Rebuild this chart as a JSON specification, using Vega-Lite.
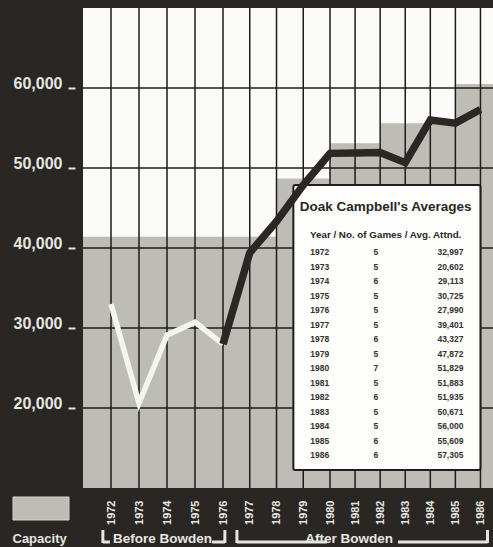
{
  "$schema": "https://vega.github.io/schema/vega-lite/v6.json",
  "width": 410,
  "height": 480,
  "autosize": {"type": "none"},
  "padding": {"left": 83, "top": 8, "right": 0, "bottom": 59},
  "background": "#2a2624",
  "config": {"view": {"fill": "#fbfbf9", "stroke": null}, "font": "Liberation Sans"},
  "datasets": {
    "averages": [
      {"year": 1972, "games": 5, "attendance": 32997},
      {"year": 1973, "games": 5, "attendance": 20602},
      {"year": 1974, "games": 6, "attendance": 29113},
      {"year": 1975, "games": 5, "attendance": 30725},
      {"year": 1976, "games": 5, "attendance": 27990},
      {"year": 1977, "games": 5, "attendance": 39401},
      {"year": 1978, "games": 6, "attendance": 43327},
      {"year": 1979, "games": 5, "attendance": 47872},
      {"year": 1980, "games": 7, "attendance": 51829},
      {"year": 1981, "games": 5, "attendance": 51883},
      {"year": 1982, "games": 6, "attendance": 51935},
      {"year": 1983, "games": 5, "attendance": 50671},
      {"year": 1984, "games": 5, "attendance": 56000},
      {"year": 1985, "games": 6, "attendance": 55609},
      {"year": 1986, "games": 6, "attendance": 57305}
    ],
    "capacity": [
      {"year": 1971, "capacity": 41400},
      {"year": 1972, "capacity": 41400},
      {"year": 1973, "capacity": 41400},
      {"year": 1974, "capacity": 41400},
      {"year": 1975, "capacity": 41400},
      {"year": 1976, "capacity": 41400},
      {"year": 1977, "capacity": 41400},
      {"year": 1978, "capacity": 48700},
      {"year": 1979, "capacity": 48700},
      {"year": 1980, "capacity": 53100},
      {"year": 1981, "capacity": 53100},
      {"year": 1982, "capacity": 55600},
      {"year": 1983, "capacity": 55600},
      {"year": 1984, "capacity": 55600},
      {"year": 1985, "capacity": 60500},
      {"year": 1986, "capacity": 60500},
      {"year": 1987, "capacity": 60500}
    ],
    "yticks": [
      {"value": 20000}, {"value": 30000}, {"value": 40000}, {"value": 50000}, {"value": 60000}
    ]
  },
  "layer": [
    {
      "layer": [
        {
          "data": {"name": "capacity"},
          "mark": {"type": "area", "interpolate": "step-after", "color": "#bdbdb6", "clip": true},
          "encoding": {
            "x": {
              "field": "year", "type": "quantitative",
              "scale": {"domain": [1971, 1976, 1980, 1986.5], "range": [0, 140, 247, 410], "nice": false, "zero": false},
              "axis": {
                "values": [1972, 1973, 1974, 1975, 1976, 1977, 1978, 1979, 1980, 1981, 1982, 1983, 1984, 1985, 1986],
                "tickCount": 30,
                "labelExpr": "format(datum.value, 'd')", "labelOverlap": false, "labelBound": false,
                "labelAngle": 270, "labelFontSize": 11, "labelFontWeight": "bold",
                "labelColor": "#e6e6e0", "ticks": false, "domain": false, "grid": false,
                "labelPadding": 12, "title": null
              }
            },
            "y": {
              "field": "capacity", "type": "quantitative",
              "scale": {"domain": [10000, 70000], "nice": false, "zero": false},
              "axis": {
                "values": [20000, 30000, 40000, 50000, 60000],
                "tickCount": 30,
                "labelExpr": "format(datum.value, ',')", "labelOverlap": false,
                "labelFontSize": 16, "labelFontWeight": "bold", "labelColor": "#e6e6e0",
                "labelBaseline": "alphabetic", "labelPadding": 6,
                "tickSize": 7, "tickWidth": 2, "tickColor": "#e6e6e0",
                "offset": 8, "domain": false, "grid": false, "title": null
              }
            },
            "y2": {"datum": 10000}
          }
        },
        {
          "data": {"name": "averages"},
          "mark": {"type": "rule", "color": "#1f1c1b", "strokeWidth": 1.5},
          "encoding": {"x": {"field": "year", "type": "quantitative"}}
        },
        {
          "data": {"name": "yticks"},
          "mark": {"type": "rule", "color": "#1f1c1b", "strokeWidth": 1.5},
          "encoding": {"y": {"field": "value", "type": "quantitative"}}
        },
        {
          "data": {"values": [{}]},
          "mark": {"type": "rect", "fill": "#fdfdfb", "stroke": "#1f1c1b", "strokeWidth": 2, "cornerRadius": 2},
          "encoding": {
            "x": {"datum": 1978.63}, "x2": {"datum": 1986},
            "y": {"datum": 47875}, "y2": {"datum": 12250}
          }
        },
        {
          "data": {"values": [{}]},
          "mark": {"type": "text", "text": "Doak Campbell's Averages", "fontSize": 13.5, "fontWeight": "bold", "color": "#2a2624", "align": "center", "baseline": "middle"},
          "encoding": {"x": {"datum": 1982.22}, "y": {"datum": 45125}}
        },
        {
          "data": {"values": [{}]},
          "mark": {"type": "text", "text": "Year / No. of Games / Avg. Attnd.", "fontSize": 9.8, "fontWeight": "bold", "color": "#2a2624", "align": "center", "baseline": "middle"},
          "encoding": {"x": {"datum": 1982.22}, "y": {"datum": 41625}}
        },
        {
          "data": {"name": "averages"},
          "transform": [{"filter": "datum.year <= 1976"}],
          "mark": {"type": "line", "color": "#f5f5f0", "strokeWidth": 5.5, "strokeJoin": "miter"},
          "encoding": {"x": {"field": "year", "type": "quantitative"}, "y": {"field": "attendance", "type": "quantitative"}}
        },
        {
          "data": {"name": "averages"},
          "transform": [{"filter": "datum.year >= 1976"}],
          "mark": {"type": "line", "color": "#2c2725", "strokeWidth": 7.5, "strokeJoin": "miter"},
          "encoding": {"x": {"field": "year", "type": "quantitative"}, "y": {"field": "attendance", "type": "quantitative"}}
        },
        {
          "data": {"values": [{}]},
          "mark": {"type": "rect", "fill": "#bdbdb6", "stroke": "#d2d2ca", "strokeWidth": 1},
          "encoding": {"x": {"datum": 1968.5}, "x2": {"datum": 1970.5}, "y": {"datum": 8875}, "y2": {"datum": 6000}}
        },
        {
          "data": {"values": [{}]},
          "mark": {"type": "text", "text": "Capacity", "fontSize": 13, "fontWeight": "bold", "color": "#e6e6e0", "align": "center", "baseline": "alphabetic"},
          "encoding": {"x": {"datum": 1969.45}, "y": {"datum": 3125}}
        },
        {
          "data": {"values": [{}]},
          "mark": {"type": "text", "text": "Before Bowden", "fontSize": 13.5, "fontWeight": "bold", "color": "#e6e6e0", "align": "center", "baseline": "alphabetic"},
          "encoding": {"x": {"datum": 1973.84}, "y": {"datum": 3125}}
        },
        {
          "data": {"values": [{}]},
          "mark": {"type": "text", "text": "After Bowden", "fontSize": 13.5, "fontWeight": "bold", "color": "#e6e6e0", "align": "center", "baseline": "alphabetic"},
          "encoding": {"x": {"datum": 1980.76}, "y": {"datum": 3125}}
        },
        {
          "data": {"values": [{}]},
          "mark": {"type": "rule", "color": "#e6e6e0", "strokeWidth": 3},
          "encoding": {"x": {"datum": 1971.71}, "y": {"datum": 4750}, "y2": {"datum": 3125}}
        },
        {
          "data": {"values": [{}]},
          "mark": {"type": "rule", "color": "#e6e6e0", "strokeWidth": 3},
          "encoding": {"x": {"datum": 1976.07}, "y": {"datum": 4750}, "y2": {"datum": 3125}}
        },
        {
          "data": {"values": [{}]},
          "mark": {"type": "rule", "color": "#e6e6e0", "strokeWidth": 3},
          "encoding": {"x": {"datum": 1976.52}, "y": {"datum": 4750}, "y2": {"datum": 3125}}
        },
        {
          "data": {"values": [{}]},
          "mark": {"type": "rule", "color": "#e6e6e0", "strokeWidth": 3},
          "encoding": {"x": {"datum": 1986.28}, "y": {"datum": 4750}, "y2": {"datum": 3125}}
        },
        {
          "data": {"values": [{}]},
          "mark": {"type": "rule", "color": "#e6e6e0", "strokeWidth": 3},
          "encoding": {"x": {"datum": 1971.71}, "x2": {"datum": 1971.96}, "y": {"datum": 3250}}
        },
        {
          "data": {"values": [{}]},
          "mark": {"type": "rule", "color": "#e6e6e0", "strokeWidth": 3},
          "encoding": {"x": {"datum": 1975.61}, "x2": {"datum": 1976.07}, "y": {"datum": 3250}}
        },
        {
          "data": {"values": [{}]},
          "mark": {"type": "rule", "color": "#e6e6e0", "strokeWidth": 3},
          "encoding": {"x": {"datum": 1976.52}, "x2": {"datum": 1979.89}, "y": {"datum": 3250}}
        },
        {
          "data": {"values": [{}]},
          "mark": {"type": "rule", "color": "#e6e6e0", "strokeWidth": 3},
          "encoding": {"x": {"datum": 1982.71}, "x2": {"datum": 1986.28}, "y": {"datum": 3250}}
        }
      ]
    },
    {
      "data": {"name": "averages"},
      "encoding": {
        "y": {"field": "year", "type": "quantitative", "scale": {"domain": [1972, 1986], "range": [244, 447], "nice": false, "zero": false}, "axis": null}
      },
      "layer": [
        {
          "mark": {"type": "text", "fontSize": 8.5, "fontWeight": "bold", "color": "#333030", "align": "left", "baseline": "middle"},
          "encoding": {"x": {"datum": 1979.26}, "text": {"field": "year", "type": "nominal"}}
        },
        {
          "mark": {"type": "text", "fontSize": 8.5, "fontWeight": "bold", "color": "#333030", "align": "center", "baseline": "middle"},
          "encoding": {"x": {"datum": 1981.83}, "text": {"field": "games", "type": "nominal"}}
        },
        {
          "mark": {"type": "text", "fontSize": 8.5, "fontWeight": "bold", "color": "#333030", "align": "right", "baseline": "middle"},
          "encoding": {"x": {"datum": 1985.32}, "text": {"field": "attendance", "type": "quantitative", "format": ","}}
        }
      ]
    }
  ],
  "resolve": {"scale": {"y": "independent"}}
}
